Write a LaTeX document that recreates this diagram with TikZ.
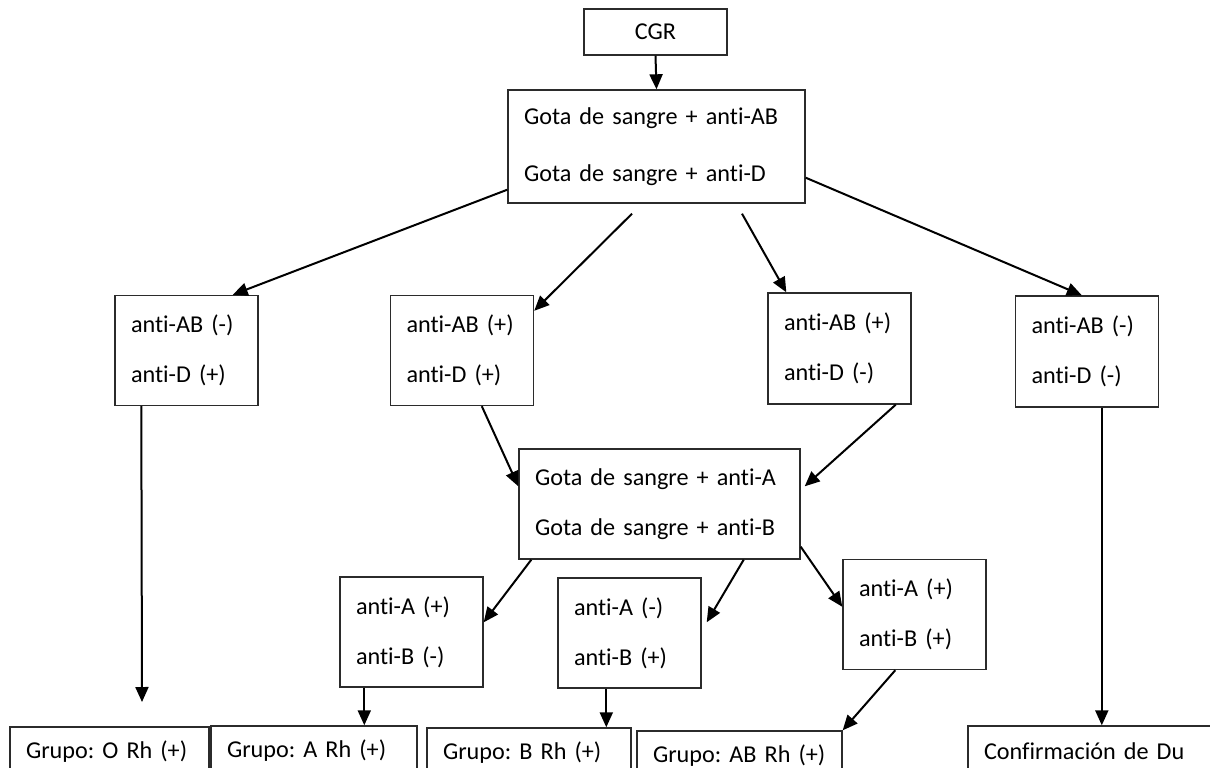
\documentclass[tikz,border=0pt]{standalone}
\usepackage{fontspec}
\setmainfont{Carlito}[Ligatures=NoCommon]
\usetikzlibrary{arrows.meta}
\definecolor{bordegris}{HTML}{2B2B2B}

\begin{document}
\frenchspacing
\begin{tikzpicture}[x=1pt,y=-1pt,>={Triangle[length=15pt,width=13pt]},
  caja/.style={draw=bordegris,line width=1.4pt,rectangle,align=left,
    inner xsep=16pt,inner ysep=0pt,text width=111pt,
    minimum width=143pt,minimum height=110pt,
    font=\fontsize{24.2}{50}\selectfont},
  grupo/.style={caja,minimum height=50pt},
  flecha/.style={->,line width=2pt}]

  % ---- page frame (bottom row runs off the page) ----
  \useasboundingbox (0,0) rectangle (1210,768);
  \clip (0,0) rectangle (1210,768);

  % ---- first test ----
  \node[caja,align=center,text width=67pt,minimum height=46pt]
        (cgr) at (655.5,32) {CGR};
  \node[caja,text width=265pt,minimum height=113pt,
        font=\fontsize{24.2}{57}\selectfont]
        (gota1) at (656.5,146.5)
        {Gota de sangre + anti-AB\\Gota de sangre + anti-D};

  % ---- anti-AB / anti-D results ----
  \node[caja] (ab1) at (186.5,350.5) {anti-AB (-)\\anti-D (+)};
  \node[caja] (ab2) at (462,350.5)   {anti-AB (+)\\anti-D (+)};
  \node[caja,minimum height=111pt] (ab3) at (839.5,348.5) {anti-AB (+)\\anti-D (-)};
  \node[caja,minimum height=111pt] (ab4) at (1087,351.5)  {anti-AB (-)\\anti-D (-)};

  % ---- second test ----
  \node[caja,text width=249pt] (gota2) at (659.5,504)
        {Gota de sangre + anti-A\\Gota de sangre + anti-B};

  % ---- anti-A / anti-B results ----
  \node[caja] (ca)  at (411.5,632)   {anti-A (+)\\anti-B (-)};
  \node[caja] (cb)  at (629.5,633)   {anti-A (-)\\anti-B (+)};
  \node[caja] (cab) at (914.5,614.5) {anti-A (+)\\anti-B (+)};

  % ---- final groups ----
  \node[grupo,text width=167pt] (grpO)  at (109.5,752) {Grupo: O Rh (+)};
  \node[grupo,text width=174pt] (grpA)  at (314,751)   {Grupo: A Rh (+)};
  \node[grupo,text width=172pt] (grpB)  at (529,753)   {Grupo: B Rh (+)};
  \node[grupo,text width=173pt] (grpAB) at (739.5,756) {Grupo: AB Rh (+)};
  \node[grupo,text width=220pt] (du)    at (1094,751)  {Confirmación de Du};

  % ---- exit points ----
  \coordinate (finO) at (142,702);
  \coordinate (salA) at ([xshift=25pt]ca.south west);
  \coordinate (salB) at ([xshift=49pt]cb.south west);
  \coordinate (salD) at ([xshift=87pt]ab4.south west);

  % ---- arrows ----
  \draw[flecha] (cgr.south) -- (gota1.north);
  \draw[flecha] ([yshift=14pt]gota1.south west) -- ([xshift=-26pt]ab1.north east);
  \draw[flecha] ([xshift=-24.5pt,yshift=-10pt]gota1.south)
        -- ([yshift=-16pt]ab2.north east);
  \draw[flecha] ([xshift=85.5pt,yshift=-10pt]gota1.south)
        -- ([xshift=19pt]ab3.north west);
  \draw[flecha] ([yshift=26pt]gota1.south east) -- ([xshift=67pt]ab4.north west);

  \draw[flecha] ([xshift=27pt]ab1.south west) -- (finO);
  \draw[flecha] ([xshift=92pt]ab2.south west) -- ([yshift=-38pt]gota2.north west);
  \draw[flecha] ([xshift=-16pt]ab3.south east)
        -- ([xshift=4pt,yshift=-38pt]gota2.north east);
  \draw[flecha] (salD) -- (salD |- du.north);

  \draw[flecha] ([xshift=13pt]gota2.south west) -- ([yshift=-46pt]ca.north east);
  \draw[flecha] ([xshift=-57pt]gota2.south east)
        -- ([xshift=5pt,yshift=-45pt]cb.north east);
  \draw[flecha] ([yshift=13pt]gota2.south east) -- ([yshift=-48pt]cab.north west);

  \draw[flecha] (salA) -- (salA |- grpA.north);
  \draw[flecha] (salB) -- (salB |- grpB.north);
  \draw[flecha] ([xshift=53pt]cab.south west) -- (grpAB.north east);

\end{tikzpicture}
\end{document}
